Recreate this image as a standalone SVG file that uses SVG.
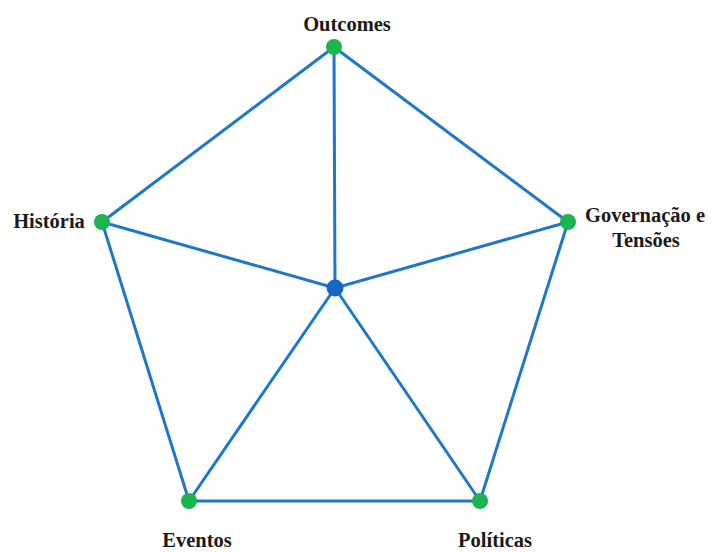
<svg xmlns="http://www.w3.org/2000/svg" width="711" height="552" viewBox="0 0 711 552">
  <style>
    .edge { stroke: #1f77c9; stroke-width: 3; fill: none; stroke-linecap: round; }
    .leaf { fill: #1db34f; }
    .hub { fill: #1767c2; }
    .label { font-family: "Liberation Serif", "Times New Roman", serif; font-weight: bold; font-size: 20.5px; fill: #1a1a1a; text-anchor: middle; }
  </style>
  <rect width="711" height="552" fill="#ffffff"/>
  <g id="connectors">
    <!-- outer ring -->
    <line class="edge" x1="334" y1="47" x2="568" y2="222"/>
    <line class="edge" x1="568" y1="222" x2="480" y2="501"/>
    <line class="edge" x1="480" y1="501" x2="189" y2="501"/>
    <line class="edge" x1="189" y1="501" x2="102" y2="222"/>
    <line class="edge" x1="102" y1="222" x2="334" y2="47"/>
    <!-- spokes -->
    <line class="edge" x1="335" y1="288" x2="334" y2="47"/>
    <line class="edge" x1="335" y1="288" x2="568" y2="222"/>
    <line class="edge" x1="335" y1="288" x2="480" y2="501"/>
    <line class="edge" x1="335" y1="288" x2="189" y2="501"/>
    <line class="edge" x1="335" y1="288" x2="102" y2="222"/>
  </g>
  <g id="center">
    <circle class="hub" cx="335" cy="288" r="8.5"/>
  </g>
  <g id="outcomes">
    <circle class="leaf" cx="334" cy="47" r="8"/>
    <text class="label" x="347" y="31">Outcomes</text>
  </g>
  <g id="historia">
    <circle class="leaf" cx="102" cy="222" r="8"/>
    <text class="label" x="49" y="228">História</text>
  </g>
  <g id="governacao">
    <circle class="leaf" cx="568" cy="222" r="8"/>
    <text class="label" x="645" y="222">Governação e</text>
    <text class="label" x="646" y="247">Tensões</text>
  </g>
  <g id="eventos">
    <circle class="leaf" cx="189" cy="501" r="8"/>
    <text class="label" x="197" y="547">Eventos</text>
  </g>
  <g id="politicas">
    <circle class="leaf" cx="480" cy="501" r="8"/>
    <text class="label" x="495" y="547">Políticas</text>
  </g>
</svg>
